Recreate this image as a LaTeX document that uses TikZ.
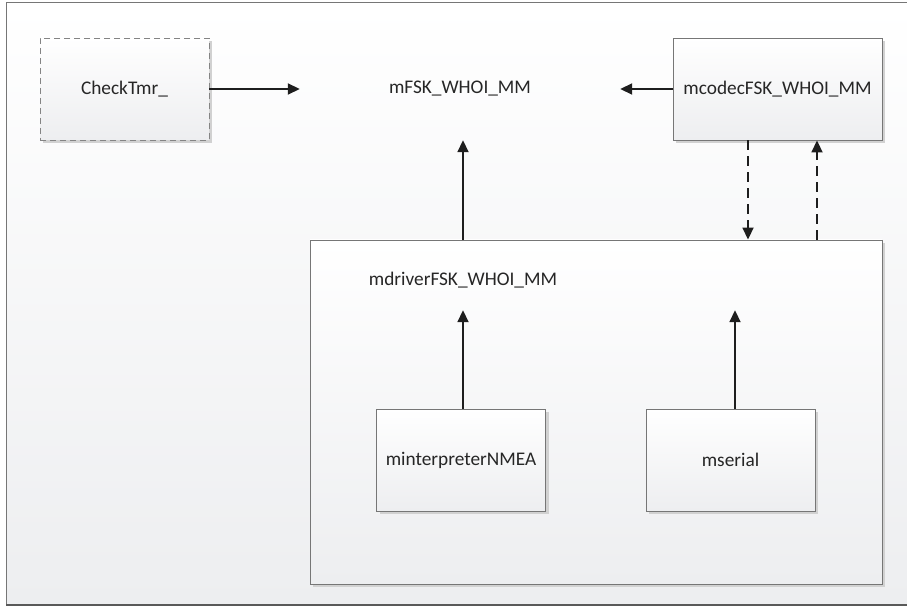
\documentclass[tikz,border=0pt]{standalone}
\usepackage{fontspec}
\setmainfont{Carlito}
\usetikzlibrary{arrows.meta,shadows}
\definecolor{boxline}{HTML}{767676}
\definecolor{boxlow}{HTML}{EDEEF0}
\definecolor{arrowcol}{HTML}{1E1E1E}
\definecolor{labelcol}{HTML}{262626}
\tikzset{
  unit/.style={draw=boxline,line width=0.9pt,top color=white,bottom color=boxlow,
    minimum width=169pt,minimum height=102pt,inner sep=0pt,text=labelcol,font=\fontsize{19.3}{22}\selectfont,
    drop shadow={shadow xshift=3pt,shadow yshift=-3pt,fill=black!18,opacity=1}},
  ghost/.style={minimum width=320pt,minimum height=102pt,inner sep=0pt,text=labelcol,font=\fontsize{19.3}{22}\selectfont},
  link/.style={arrowcol,line width=1.8pt,-{Triangle[length=12pt,width=11pt]}},
  weaklink/.style={link,dash pattern=on 10pt off 6pt}
}
\begin{document}
\begin{tikzpicture}[x=1pt,y=-1pt]
  \useasboundingbox (0,0) rectangle (907,612);
  % frame
  \shade[top color=white,bottom color=boxlow] (6,3) rectangle (907,605);
  \draw[boxline,line width=1pt] (6,605) -- (6,3) -- (907,3);
  \draw[black!65,line width=1.2pt] (6,605) -- (907,605);
  % top row
  \node[unit,dashed,dash pattern=on 6pt off 4pt,draw=boxline!90] (check) at (124.5,89) {CheckTmr\_};
  \node[ghost] (mfsk) at (460,89) {mFSK\_WHOI\_MM};
  \node[unit,minimum width=209pt] (mcodec) at (777.5,89) {mcodecFSK\_WHOI\_MM};
  % driver with its parts
  \node[unit,minimum width=572pt,minimum height=344pt] (mdriver) at (596,412) {};
  \node[ghost,minimum height=60pt] (drvlabel) at (463,280) {mdriverFSK\_WHOI\_MM};
  \node[unit] (interp) at (461,460) {minterpreterNMEA};
  \node[unit] (serial) at (730.5,460) {mserial};
  % connectors
  \draw[link] (check.east) -- (mfsk.west);
  \draw[link] (mcodec.west) -- (mfsk.east);
  \draw[link] (mdriver.north -| 463,0) -- (mfsk.south -| 463,0);
  \draw[link] (interp.north -| 463,0) -- (drvlabel.south);
  \draw[link] (serial.north -| 735,0) -- (drvlabel.south -| 735,0);
  \draw[weaklink] (mcodec.south -| 748,0) -- (mdriver.north -| 748,0);
  \draw[weaklink] (mdriver.north -| 817,0) -- (mcodec.south -| 817,0);
\end{tikzpicture}
\end{document}
